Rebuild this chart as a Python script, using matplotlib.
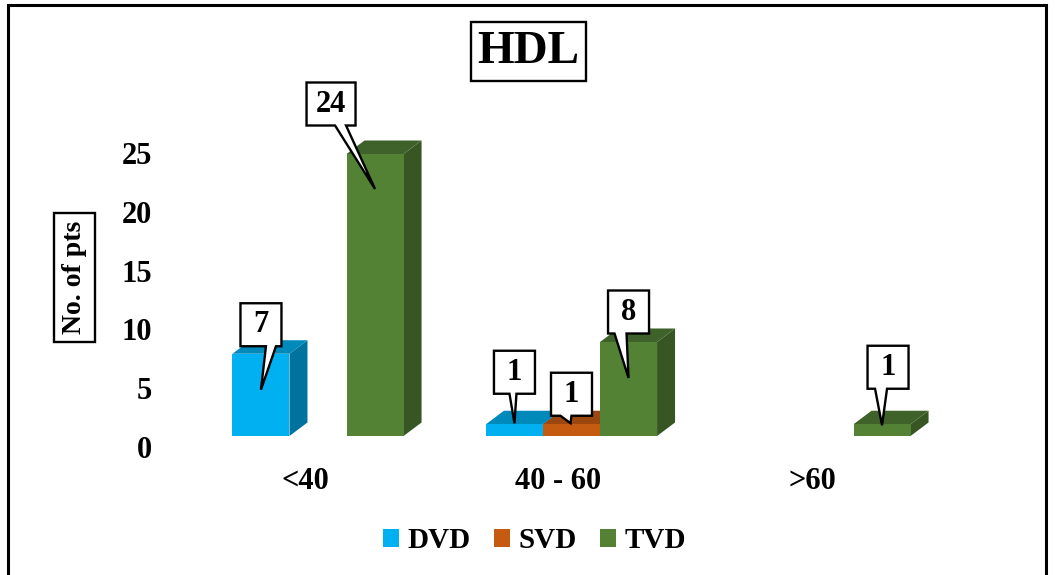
import matplotlib
matplotlib.use('Agg')
import matplotlib.pyplot as plt
import matplotlib.transforms as mtransforms
from matplotlib.patches import Polygon, Rectangle, Patch

categories = ['<40', '40 - 60', '>60']
series = ['DVD', 'SVD', 'TVD']
dvd = [7, 1, 0]
svd = [0, 1, 0]
tvd = [24, 8, 1]
yticks = [0, 5, 10, 15, 20, 25]

front = {'DVD': '#00B0F0', 'SVD': '#C55A11', 'TVD': '#548235'}
top = {'DVD': '#0089BB', 'SVD': '#9C4610', 'TVD': '#3E6229'}
side = {'DVD': '#00729E', 'SVD': '#8A3E0E', 'TVD': '#375623'}

# callouts (pixels): box centre from bar top, wedge base rel. to box centre, tip from bar top
callouts = {
    ('TVD', 0): ((-44, 50), (4, 15), (0, -35)),
    ('DVD', 0): ((0, 29), (5, 15), (0, -36)),
    ('DVD', 1): ((0, 52), (-5, 2), (0, 1)),
    ('SVD', 1): ((0, 30), (-11, 0), (-1, 1)),
    ('TVD', 1): ((0, 30), (-14, -2), (0, -36)),
    ('TVD', 2): ((6, 57), (-13, -1), (0, -1)),
}

plt.rcParams['font.family'] = ['Liberation Serif', 'DejaVu Serif']
plt.rcParams['font.weight'] = 'bold'

fig = plt.figure(figsize=(10.55, 5.75), dpi=100)
ax = fig.add_axes([160 / 1055, 139 / 575, 840 / 1055, 336 / 575])
ax.set_xlim(-158 / 253.5, 682 / 253.5)
ax.set_ylim(0, 336 / 11.75)

w = 0.225
ddx, ddy = 0.071, 1.15   # 3d depth in data units
values = {'DVD': dvd, 'SVD': svd, 'TVD': tvd}

z = 2
for i in range(len(categories)):
    for j, s in enumerate(series):
        v = values[s][i]
        if v <= 0:
            continue
        x0 = i + (j - 1) * w - w / 2
        ax.add_patch(Polygon([(x0 + w, 0), (x0 + w + ddx, ddy), (x0 + w + ddx, v + ddy), (x0 + w, v)],
                             closed=True, fc=side[s], ec='none', zorder=z))
        ax.add_patch(Polygon([(x0, v), (x0 + w, v), (x0 + w + ddx, v + ddy), (x0 + ddx, v + ddy)],
                             closed=True, fc=top[s], ec='none', zorder=z + 1))
        ax.add_patch(Rectangle((x0, 0), w, v, fc=front[s], ec='none', zorder=z + 2))
        z += 3

for (s, i), ((bx, by), (w0, w1), (tx, ty)) in callouts.items():
    j = series.index(s)
    v = values[s][i]
    xc = i + (j - 1) * w
    tr = mtransforms.ScaledTranslation(xc, v, ax.transData)
    txt = str(v)
    bw = 41 if len(txt) == 1 else 49
    bh = 43
    l, r = bx - bw / 2, bx + bw / 2
    b, t = by - bh / 2, by + bh / 2
    verts = [(l, b), (bx + w0, b), (tx, ty), (bx + w1, b), (r, b), (r, t), (l, t)]
    ax.add_patch(Polygon(verts, closed=True, fc='white', ec='black', lw=1.7,
                         transform=tr, zorder=50, clip_on=False))
    ax.text(bx, by, txt, transform=tr, ha='center', va='center', fontsize=22,
            fontweight='bold', zorder=51, clip_on=False)

ax.set_yticks(yticks)
ax.set_yticklabels([str(t) for t in yticks], fontsize=22, fontweight='bold')
ax.set_xticks(range(len(categories)))
ax.set_xticklabels(categories, fontsize=22, fontweight='bold')
ax.tick_params(axis='y', length=0, pad=6)
ax.tick_params(axis='x', length=0, pad=22.5)
for lab in ax.get_yticklabels():
    lab.set_transform(lab.get_transform() + mtransforms.ScaledTranslation(0, -0.11, fig.dpi_scale_trans))
for lab in ax.get_xticklabels():
    lab.set_transform(lab.get_transform() + mtransforms.ScaledTranslation(-0.13, 0, fig.dpi_scale_trans))
for sp in ax.spines.values():
    sp.set_visible(False)
ax.patch.set_alpha(0)

ax.set_ylabel('No. of pts', fontsize=20, fontweight='bold',
              bbox=dict(boxstyle='square,pad=0.3', fc='white', ec='black', lw=1.7))
ax.yaxis.set_label_coords(-85.5 / 840, 158.5 / 336)
ax.yaxis.label.set_va('center')

# title in a box
fig.patches.append(Rectangle((471 / 1055, 1 - 81 / 575), 115 / 1055, 59 / 575,
                             transform=fig.transFigure, fc='white', ec='black', lw=1.7))
fig.text(528.5 / 1055, 1 - 52 / 575, 'HDL', ha='center', va='center',
         fontsize=34, fontweight='bold')

handles = [Patch(fc=front[s], ec='none') for s in series]
fig.legend(handles, series, loc='center', bbox_to_anchor=(534.5 / 1055, 1 - 541 / 575),
           ncol=3, frameon=False, prop={'size': 21, 'weight': 'bold'},
           handlelength=0.55, handleheight=0.55, handletextpad=0.28, columnspacing=0.8)

# outer chart border
fig.patches.append(Rectangle((8 / 1055, -0.02), 1038 / 1055, 1.02 - 5 / 575,
                             transform=fig.transFigure, fc='none', ec='black', lw=2.2))

fig.savefig('out.png', dpi=100)
